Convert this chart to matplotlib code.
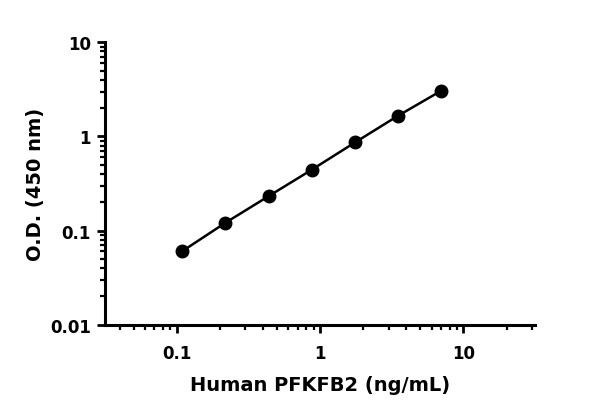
import numpy as np
import matplotlib
matplotlib.use("Agg")
import matplotlib.pyplot as plt
from matplotlib.ticker import LogLocator, FixedLocator, FixedFormatter, NullFormatter

# standard curve data
conc = [0.109375, 0.21875, 0.4375, 0.875, 1.75, 3.5, 7.0]
od = [0.0604, 0.121, 0.232, 0.443, 0.863, 1.66, 3.06]

x_ticks = [0.1, 1, 10]
x_labels = ["0.1", "1", "10"]
y_ticks = [0.01, 0.1, 1, 10]
y_labels = ["0.01", "0.1", "1", "10"]

plt.rcParams['font.family'] = ['DejaVu Sans']
plt.rcParams['font.weight'] = 'bold'

fig = plt.figure(figsize=(6, 4.14), dpi=100)
ax = fig.add_axes([0.175, 0.2133, 0.717, 0.6821])

ax.plot(conc, od, color='black', lw=1.8, marker='o', ms=9, zorder=3)

ax.set_xscale('log')
ax.set_yscale('log')
ax.set_xlim(10**-1.5, 10**1.5)
ax.set_ylim(0.01, 10)

ax.xaxis.set_major_locator(FixedLocator(x_ticks))
ax.xaxis.set_major_formatter(FixedFormatter(x_labels))
ax.yaxis.set_major_locator(FixedLocator(y_ticks))
ax.yaxis.set_major_formatter(FixedFormatter(y_labels))
ax.xaxis.set_minor_locator(LogLocator(base=10, subs=np.arange(2, 10)))
ax.yaxis.set_minor_locator(LogLocator(base=10, subs=np.arange(2, 10)))
ax.xaxis.set_minor_formatter(NullFormatter())
ax.yaxis.set_minor_formatter(NullFormatter())

for s in ['top', 'right']:
    ax.spines[s].set_visible(False)
for s in ['left', 'bottom']:
    ax.spines[s].set_linewidth(2.2)

ax.tick_params(which='major', length=6, width=2.0, labelsize=12, pad=4)
ax.tick_params(which='minor', length=3.5, width=1.6)
ax.tick_params(axis='x', which='major', pad=8)

ax.set_xlabel("Human PFKFB2 (ng/mL)", fontsize=14, fontweight='bold', labelpad=9)
ax.set_ylabel("O.D. (450 nm)", fontsize=14, fontweight='bold', labelpad=4)

fig.savefig("out.png", dpi=100)
